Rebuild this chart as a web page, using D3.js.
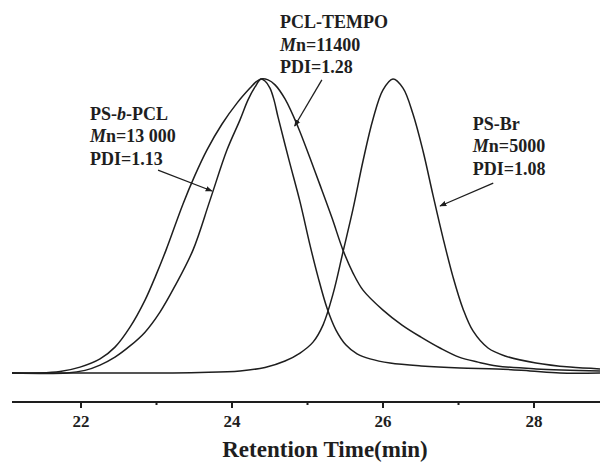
<!DOCTYPE html>
<html lang="en">
<head>
    <meta charset="UTF-8">
    <title>GPC traces</title>
    <script src="https://d3js.org/d3.v7.min.js"></script>
    <style>
        body { margin: 0; background: #fff; }
        svg text {
            font-family: "Liberation Serif", "Times New Roman", serif;
            font-weight: bold;
            fill: #1e1e1e;
        }
        .trace { fill: none; stroke: #1e1e1e; stroke-width: 1.5; }
        .axis-line { stroke: #1e1e1e; stroke-width: 2; }
        .arrow { stroke: #1e1e1e; stroke-width: 1.3; }
    </style>
</head>
<body>
<div id="chart"></div>
<script>
    // Retention time (min) and normalised detector signal
    const psBrTime = [21.086, 22.914, 23.576, 24.106, 24.437, 24.702, 24.901, 25.073, 25.205, 25.338, 25.47,
                      25.603, 25.735, 25.868, 26.0, 26.132, 26.265, 26.397, 26.53, 26.662, 26.795, 26.927,
                      27.06, 27.192, 27.391, 27.616, 28.026, 28.477, 28.874];
    const psBrSignal = [0, 0, 0.002, 0.007, 0.019, 0.041, 0.068, 0.105, 0.163, 0.269, 0.412,
                        0.558, 0.721, 0.864, 0.963, 1.0, 0.969, 0.881, 0.755, 0.605, 0.459, 0.327,
                        0.218, 0.143, 0.085, 0.058, 0.034, 0.020, 0.014];

    const pclTempoTime = [21.086, 21.457, 21.722, 21.987, 22.252, 22.45, 22.649, 22.848, 22.993, 23.126, 23.351,
                          23.51, 23.669, 23.868, 24.066, 24.238, 24.318, 24.384, 24.477, 24.57, 24.702, 24.874,
                          25.033, 25.166, 25.325, 25.47, 25.603, 25.735, 26.0, 26.252, 26.503, 26.755, 27.007,
                          27.258, 27.51, 28.026, 28.874];
    const pclTempoSignal = [0, 0, 0.005, 0.020, 0.048, 0.088, 0.156, 0.248, 0.333, 0.418, 0.575,
                            0.673, 0.759, 0.847, 0.918, 0.969, 0.990, 1.0, 0.997, 0.980, 0.932, 0.837,
                            0.731, 0.639, 0.527, 0.418, 0.340, 0.282, 0.214, 0.163, 0.122, 0.085, 0.054,
                            0.037, 0.024, 0.014, 0.007];

    const psbPclTime = [21.086, 21.815, 22.053, 22.252, 22.45, 22.649, 22.848, 23.046, 23.245, 23.483, 23.709,
                        23.934, 24.106, 24.212, 24.305, 24.384, 24.437, 24.503, 24.556, 24.609, 24.755, 24.901,
                        25.033, 25.139, 25.258, 25.377, 25.51, 25.656, 25.828, 26.093, 26.503, 27.02, 27.51,
                        27.947, 28.344, 28.874];
    const psbPclSignal = [0, 0, 0.009, 0.027, 0.054, 0.092, 0.139, 0.207, 0.296, 0.418, 0.588,
                          0.759, 0.861, 0.929, 0.973, 1.0, 0.993, 0.969, 0.929, 0.871, 0.724, 0.582,
                          0.435, 0.327, 0.221, 0.146, 0.095, 0.065, 0.048, 0.034, 0.024, 0.017, 0.014,
                          0.007, 0, 0];

    const majorTicks = [22, 24, 26, 28];
    const minorTicks = [23, 25, 27];
    const xTitle = "Retention Time(min)";

    // labels: [name, Mn value, PDI], anchored in data units
    const labelNames = ["PS-b-PCL", "PCL-TEMPO", "PS-Br"];
    const labelMn = ["13 000", "11400", "5000"];
    const labelPdi = ["1.13", "1.28", "1.08"];
    const labelAt = [[22.12, 0.861], [24.636, 1.173], [27.19, 0.827]];
    const arrowFrom = [[23.02, 0.69], [25.19, 0.997], [27.46, 0.646]];
    const arrowTo = [[23.735, 0.619], [24.83, 0.84], [26.755, 0.568]];

    const W = 600, H = 463;
    const svg = d3.select("#chart").append("svg")
        .attr("width", W).attr("height", H);

    const x = d3.scaleLinear().domain([21.086, 28.874]).range([12, 600]);
    const y = d3.scaleLinear().domain([0, 1]).range([373, 79]);
    const axisY = 402;

    svg.append("defs").append("marker")
        .attr("id", "head")
        .attr("viewBox", "0 0 10 10")
        .attr("refX", 9).attr("refY", 5)
        .attr("markerWidth", 7).attr("markerHeight", 7)
        .attr("markerUnits", "userSpaceOnUse")
        .attr("orient", "auto")
        .append("path")
        .attr("d", "M0,1 L10,5 L0,9 Z")
        .attr("fill", "#1e1e1e");

    const line = d3.line()
        .x(d => x(d[0]))
        .y(d => y(d[1]))
        .curve(d3.curveCatmullRom.alpha(0.5));

    const series = [
        d3.zip(psBrTime, psBrSignal),
        d3.zip(pclTempoTime, pclTempoSignal),
        d3.zip(psbPclTime, psbPclSignal)
    ];

    svg.selectAll(".trace")
        .data(series)
        .enter().append("path")
        .attr("class", "trace")
        .attr("d", line);

    // x axis
    const axis = svg.append("g").attr("transform", `translate(0,${axisY})`);
    axis.append("line").attr("class", "axis-line")
        .attr("x1", x.range()[0]).attr("x2", x.range()[1]);
    axis.selectAll(".major").data(majorTicks).enter().append("line")
        .attr("class", "axis-line").attr("stroke-width", 1.5)
        .attr("x1", d => x(d)).attr("x2", d => x(d))
        .attr("y1", 0).attr("y2", 6);
    axis.selectAll(".minor").data(minorTicks).enter().append("line")
        .attr("class", "axis-line").attr("stroke-width", 1.5)
        .attr("x1", d => x(d)).attr("x2", d => x(d))
        .attr("y1", 0).attr("y2", 3);
    axis.selectAll(".tick-label").data(majorTicks).enter().append("text")
        .attr("x", d => x(d)).attr("y", 25)
        .attr("text-anchor", "middle")
        .style("font-size", "17px")
        .text(d => d);

    svg.append("text")
        .attr("x", 325).attr("y", 457)
        .attr("text-anchor", "middle")
        .style("font-size", "23px")
        .text(xTitle);

    // annotations
    labelNames.forEach((name, i) => {
        const lx = x(labelAt[i][0]), ly = y(labelAt[i][1]);
        const t = svg.append("text").style("font-size", "18px");
        const l1 = t.append("tspan").attr("x", lx).attr("y", ly);
        if (name.includes("-b-")) {
            const parts = name.split("-b-");
            l1.append("tspan").text(parts[0] + "-");
            l1.append("tspan").style("font-style", "italic").text("b");
            l1.append("tspan").text("-" + parts[1]);
        } else {
            l1.text(name);
        }
        const l2 = t.append("tspan").attr("x", lx).attr("y", ly + 22.5);
        l2.append("tspan").style("font-style", "italic").text("M");
        l2.append("tspan").text("n=" + labelMn[i]);
        t.append("tspan").attr("x", lx).attr("y", ly + 45).text("PDI=" + labelPdi[i]);

        svg.append("line").attr("class", "arrow")
            .attr("x1", x(arrowFrom[i][0])).attr("y1", y(arrowFrom[i][1]))
            .attr("x2", x(arrowTo[i][0])).attr("y2", y(arrowTo[i][1]))
            .attr("marker-end", "url(#head)");
    });
</script>
</body>
</html>
